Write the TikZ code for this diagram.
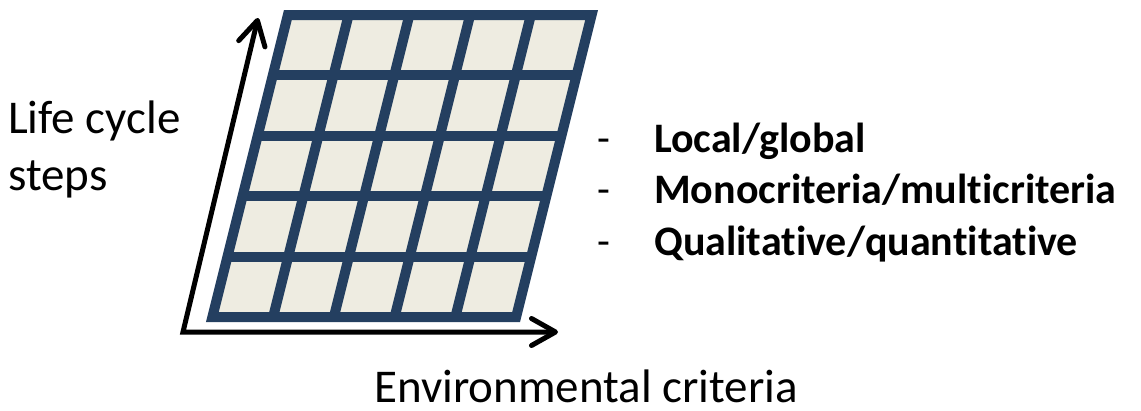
\documentclass[tikz,border=0pt]{standalone}
\usepackage{fontspec}
\setmainfont{Carlito}[Ligatures=CommonOff]
\usetikzlibrary{arrows.meta}

\definecolor{gridblue}{HTML}{243F60}
\definecolor{cellfill}{HTML}{EEECE1}

\tikzset{
  gridline/.style={draw=gridblue, line width=10pt, line join=miter},
  axis/.style={draw=black, line width=5pt, line join=miter,
    {Straight Barb[length=24pt, width=27pt, round]}-{Straight Barb[length=24pt, width=27pt, round]}},
  axislabel/.style={inner sep=0pt, anchor=base west, font=\fontsize{47}{56}\selectfont},
  item/.style={inner sep=0pt, anchor=base west, font=\fontsize{42}{50}\selectfont\bfseries},
  dashmark/.style={inner sep=0pt, anchor=base west, font=\fontsize{42}{50}\selectfont},
}

\begin{document}
\begin{tikzpicture}[x=1pt, y=-1pt]
  \useasboundingbox (0,0) rectangle (1141,410);

  % sheared 5x5 grid: origin, column step, row step and shear per row
  \def\gx{212.4}\def\gy{317}
  \def\cw{60.74}\def\rh{60.4}\def\sh{15.1}

  \coordinate (g00) at (\gx,\gy);
  \coordinate (g50) at (\gx+5*\cw,\gy);
  \coordinate (g05) at (\gx+5*\sh,\gy-5*\rh);
  \coordinate (g55) at (\gx+5*\cw+5*\sh,\gy-5*\rh);

  \fill[cellfill] (g00) -- (g50) -- (g55) -- (g05) -- cycle;

  \foreach \k in {1,...,4} {
    \draw[gridline] (\gx+\k*\cw,\gy) -- (\gx+\k*\cw+5*\sh,\gy-5*\rh);
    \draw[gridline] (\gx+\k*\sh,\gy-\k*\rh) -- (\gx+5*\cw+\k*\sh,\gy-\k*\rh);
  }
  \draw[gridline] (g00) -- (g50) -- (g55) -- (g05) -- cycle;

  % axes
  \coordinate (ytip) at (258,18);
  \coordinate (origin) at (183,332);
  \coordinate (xtip) at (558,332);
  \draw[axis] (ytip) -- (origin) -- (xtip);

  % labels
  \node[axislabel] (lc1) at (8,133) {Life cycle};
  \node[axislabel] (lc2) at (8,190) {steps};
  \node[axislabel] (env) at (374,402) {Environmental criteria};

  \node[dashmark] (d1) at (597,152) {-};
  \node[dashmark] (d2) at (597,203) {-};
  \node[dashmark] (d3) at (597,255) {-};
  \node[item] (i1) at (654,152) {Local/global};
  \node[item] (i2) at (654,203) {Monocriteria/multicriteria};
  \node[item] (i3) at (654,255) {Qualitative/quantitative};
\end{tikzpicture}
\end{document}
